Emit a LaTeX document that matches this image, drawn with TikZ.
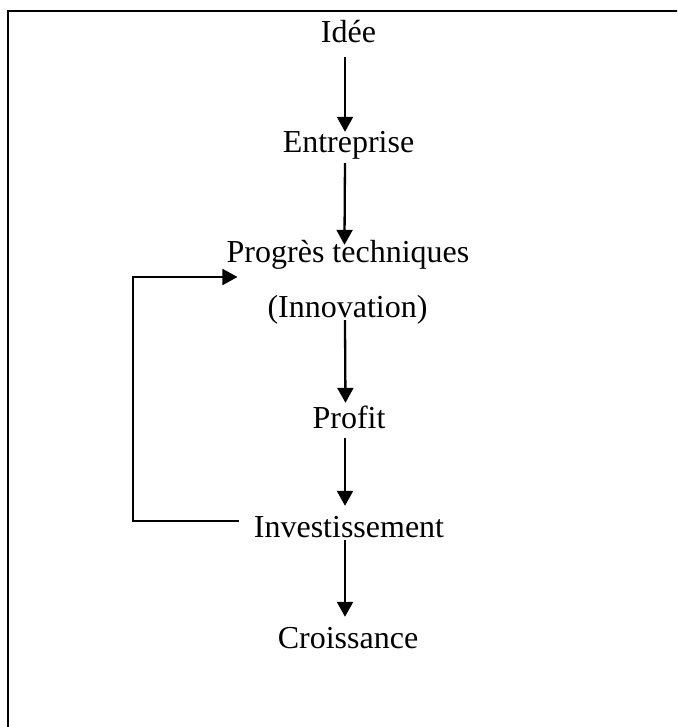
\documentclass[tikz,border=0pt]{standalone}
\usepackage{fontspec}
\setmainfont{Liberation Serif}
\usetikzlibrary{arrows.meta}
\begin{document}
\begin{tikzpicture}[x=1pt,y=-1pt,
  lbl/.style={anchor=base,inner sep=0pt,text height=22pt,text depth=7pt,
    font=\fontsize{32}{36}\selectfont},
  flow/.style={line width=2.3pt,-{Triangle[width=16pt,length=15pt]}},
  back/.style={line width=1.8pt,-{Triangle[width=16pt,length=15pt]}},
  frame/.style={line width=2.2pt}]
\useasboundingbox (0,0) rectangle (677,727);
\clip (0,0) rectangle (677,727);
% cell border (top and left edges)
\draw[frame] (8,740) -- (8,11) -- (690,11);
% stages of the chain
\node[lbl] (idee)   at (348.5,43)  {Idée};
\node[lbl] (entr)   at (348.5,153) {Entreprise};
\node[lbl] (prog)   at (348,262)   {Progrès techniques};
\node[lbl] (innov)  at (347.5,317) {(Innovation)};
\node[lbl] (profit) at (349,428)   {Profit};
\node[lbl] (invest) at (349,537)   {Investissement};
\node[lbl] (crois)  at (348,648)   {Croissance};
% downward arrows
\draw[flow,shorten <=7pt,shorten >=-1pt] ([xshift=-3.5pt]idee.south) -- ([xshift=-3.5pt]entr.north);
\draw[flow,shorten <=3pt,shorten >=-5pt] ([xshift=-3.5pt]entr.south) -- ([xshift=-3.5pt]prog.north);
\draw[flow,shorten <=-4pt,shorten >=3pt] ([xshift=-2.5pt]innov.south) -- ([xshift=-3.5pt]profit.north);
\draw[flow,shorten <=3pt,shorten >=9pt] ([xshift=-4pt]profit.south) -- ([xshift=-4pt]invest.north);
\draw[flow,shorten <=-4pt,shorten >=9pt] ([xshift=-4pt]invest.south) -- ([xshift=-3pt]crois.north);
% feedback loop
\coordinate (lb) at (133,521);
\coordinate (lt) at (133,277);
\draw[back] ([xshift=-15pt,yshift=8.5pt]invest.west) -- (lb) -- (lt) -- ([xshift=11pt,yshift=-22.5pt]prog.west);
\end{tikzpicture}
\end{document}
